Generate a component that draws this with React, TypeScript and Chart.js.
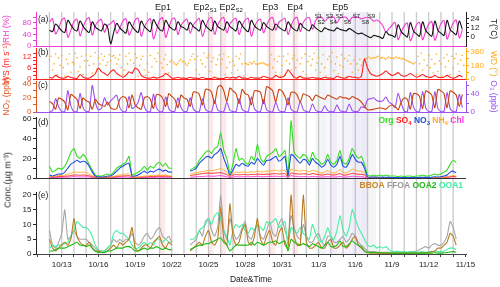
import React, { useEffect, useRef } from "react";
import { Chart, registerables } from "chart.js";
Chart.register(...registerables);

const FONT = "'Liberation Sans', Arial, Helvetica, sans-serif";
Chart.defaults.font.family = FONT;
Chart.defaults.color = "#222";

// ---------- time axis (day of October; November d = 31 + d) ----------
const T_START = 12; // 10/12 00:00
const T_STEP = 0.25; // 6-hourly values
const WD_STEP = 0.125; // 3-hourly wind direction
const X_MIN = 10.9;
const X_MAX = 46.05;
const X_TICK_DAYS = [13, 16, 19, 22, 25, 28, 31, 34, 37, 40, 43, 46];
const X_TICK_LABELS = ["10/13", "10/16", "10/19", "10/22", "10/25", "10/28", "10/31", "11/3", "11/6", "11/9", "11/12", "11/15"];
const DAY_LINES = [12, 13, 14, 15, 16, 17, 18, 19, 20, 21, 22, 23, 24, 25, 26, 27, 28, 29, 30, 31, 32, 33, 34, 35, 36, 37, 38, 39, 40, 41, 42, 43, 44, 45];
const X_TICK_MARKS = [11, ...DAY_LINES, 46];

// ---------- episodes ----------
const EP_NAMES = ["Ep1", "Ep2", "Ep2", "Ep3", "Ep4"];
const EP_SUBS = ["", "S1", "S2", "", ""];
const EP_FROM = [21.05, 24.98, 25.96, 29.8, 31.85];
const EP_TO = [21.46, 25.38, 26.45, 30.46, 32.34];
const EP_LABEL_AT = [21.29, 24.73, 26.86, 30.05, 32.1];
const EP5_LABEL_AT = 35.78;
const S_NAMES = ["S1", "S2", "S3", "S4", "S5", "S6", "S7", "S8", "S9"];
const S_FROM = [33.73, 34.23, 34.63, 35.04, 35.53, 36.02, 36.68, 37.41, 37.99];
const S_TO = [34.23, 34.63, 35.04, 35.53, 36.02, 36.68, 37.41, 37.99, 38.72];
const S_LABEL_AT = [33.98, 34.22, 34.88, 35.2, 35.7, 36.35, 37.09, 37.82, 38.31];

// ---------- (a) RH (%) and T (°C), 6-hourly ----------
const RH = [
  82, 95, 42, 62, 90, 96, 30, 55, 84, 93, 35, 66, 90, 98, 38, 70, 86, 92, 48, 72,
  78, 88, 44, 62, 86, 95, 38, 60, 90, 96, 34, 64, 85, 95, 25, 55, 90, 98, 30, 62,
  92, 96, 40, 70, 86, 93, 45, 72, 86, 96, 34, 62, 92, 99, 40, 72, 92, 99, 46, 76,
  90, 96, 40, 70, 90, 96, 34, 66, 86, 93, 46, 72, 93, 99, 55, 82, 90, 96, 40, 70,
  93, 99, 50, 82, 96, 99, 58, 88, 99, 100, 86, 96, 100, 100, 80, 98, 100, 100, 86, 100,
  100, 100, 94, 98, 100, 96, 86, 90, 84, 70, 48, 60, 72, 82, 22, 48, 70, 80, 18, 45,
  74, 82, 22, 50, 76, 85, 20, 48, 78, 88, 24, 52, 80, 90, 28, 55,
];
const TEMP = [
  9, 7, 17, 13, 8, 6, 22, 16, 10, 8, 21, 14, 9, 6, 20, 13, 10, 8, 17, 13,
  -9, 6, 18, 12, 8, 5, 20, 14, 9, 6, 21, 14, 10, 7, 23, 16, 10, 8, 22, 15,
  11, 9, 20, 14, 12, 9, 19, 14, 11, 8, 22, 15, 11, 8, 21, 14, 11, 9, 20, 14,
  11, 8, 21, 15, 10, 7, 22, 15, 11, 9, 19, 14, 11, 9, 17, 13, 10, 8, 20, 14,
  10, 8, 18, 13, 10, 8, 16, 12, 9, 7, 12, 10, 9, 8, 12, 10, 9, 8, 11, 9,
  6, 4, 5, 3, 1, -1, 2, 1, 0, -2, 7, 3, 2, 0, 16, 7, 3, 0, 19, 8,
  4, 1, 20, 9, 4, 1, 21, 9, 5, 2, 22, 10, 6, 3, 21, 10,
];

// ---------- (b) WS (m/s) 6-hourly, WD (deg) 3-hourly ----------
const WS = [
  1, 0.5, 2, 1, 0.5, 0.5, 1.5, 0.8, 0.5, 0.3, 2.5, 1, 0.5, 0.5, 1.5, 3, 6, 4, 3, 2,
  4, 5, 3, 2, 1, 2, 4, 3, 6, 5, 2, 1, 0.5, 0.5, 1, 0.5, 1, 1.5, 3, 2,
  0.5, 0.5, 1, 0.5, 0.5, 0.3, 1, 0.5, 0.5, 0.3, 1, 0.3, 0.3, 0.3, 0.8, 0.3, 0.3, 0.3, 1, 0.5,
  1, 0.5, 1.5, 0.5, 0.5, 0.3, 1, 0.5, 0.5, 0.5, 1.5, 1, 0.5, 0.5, 2, 1, 1, 2, 5, 3,
  1, 0.5, 1.5, 0.5, 0.5, 0.5, 1, 0.5, 0.5, 0.3, 1, 0.5, 0.5, 0.3, 1.5, 1, 0.5, 0.5, 1.5, 1,
  1, 0.5, 1.5, 11, 6, 3, 2, 1.5, 2, 3, 4.5, 3, 2, 2.5, 3.5, 2, 1.5, 2, 3, 2,
  1, 1.5, 2.5, 1.5, 1, 1, 2, 1, 0.8, 1, 2, 1, 0.5, 1, 2, 1,
];
const WD = [
  250, 300, 120, 200, 330, 60, 280, 180, 310, 150, 40, 260, 200, 330, 90, 220,
  200, 340, 280, 100, 160, 300, 60, 240, 320, 240, 180, 300, 80, 200, 350, 130,
  280, 200, 330, 250, 300, 180, 220, 320, 240, 300, 310, 280, 200, 260, 320, 150,
  60, 120, 300, 200, 340, 250, 90, 210, 330, 280, 40, 180, 260, 300, 120, 50,
  200, 90, 310, 160, 30, 270, 230, 340, 300, 210, 150, 260, 320, 190, 80, 230,
  250, 220, 200, 190, 210, 240, 260, 230, 230, 200, 180, 210, 250, 300, 330, 260,
  120, 300, 60, 250, 200, 340, 160, 280, 310, 100, 230, 280, 30, 190, 260, 320,
  200, 260, 330, 60, 150, 290, 220, 80, 240, 180, 300, 120, 270, 330, 200, 40,
  210, 200, 190, 220, 200, 210, 230, 200, 190, 200, 210, 205, 215, 200, 190, 180,
  200, 320, 150, 260, 90, 230, 300, 40, 180, 300, 60, 240, 330, 200, 120, 270,
  310, 150, 250, 30, 200, 280, 100, 330, 60, 230, 300, 180, 260, 340, 120, 210,
  280, 90, 200, 320, 150, 40, 260, 300, 230, 350, 110, 200, 290, 70, 180, 320,
  160, 270, 30, 240, 310, 200, 90, 250, 300, 200, 120, 260, 180, 220, 250, 270,
  280, 290, 270, 275, 285, 280, 290, 300, 270, 280, 285, 275, 260, 280, 290, 275,
  280, 270, 285, 290, 275, 280, 265, 270, 260, 250, 240, 230, 220, 210, 200, 215,
  60, 300, 200, 340, 120, 250, 30, 180, 310, 150, 260, 80, 200, 330, 100, 240,
  200, 40, 280, 160, 320, 240, 60, 300, 150, 270, 330, 200, 100, 250, 310, 180,
];

// ---------- (c) NO2 and O3 (ppb), 6-hourly ----------
const NO2 = [
  15, 12, 4, 20, 18, 14, 3, 25, 22, 18, 5, 20, 16, 14, 4, 18, 12, 10, 8, 14,
  6, 4, 5, 18, 22, 20, 6, 24, 10, 6, 4, 20, 22, 18, 5, 25, 24, 20, 8, 26,
  22, 18, 6, 24, 20, 18, 8, 28, 28, 25, 10, 32, 32, 28, 12, 35, 38, 30, 15, 34,
  30, 26, 12, 32, 26, 24, 10, 30, 30, 28, 12, 36, 34, 30, 14, 32, 30, 22, 10, 28,
  28, 24, 14, 26, 24, 22, 16, 24, 22, 20, 18, 24, 22, 20, 18, 22, 20, 20, 18, 22,
  20, 18, 14, 8, 3, 3, 4, 5, 6, 5, 4, 8, 10, 8, 3, 14, 20, 18, 4, 26,
  26, 22, 5, 30, 28, 24, 6, 32, 30, 26, 6, 30, 28, 24, 8, 25,
];
const O3 = [
  2, 2, 30, 12, 1, 1, 48, 14, 1, 1, 42, 10, 1, 2, 60, 22, 5, 8, 32, 16,
  25, 32, 38, 10, 1, 1, 35, 8, 12, 22, 44, 12, 1, 1, 40, 10, 1, 1, 34, 8,
  1, 2, 32, 10, 1, 2, 32, 8, 1, 1, 30, 6, 1, 1, 26, 5, 1, 1, 22, 4,
  1, 1, 30, 6, 1, 1, 34, 8, 1, 1, 28, 5, 1, 1, 22, 4, 1, 2, 32, 6,
  1, 1, 24, 5, 1, 1, 18, 4, 1, 1, 14, 3, 1, 1, 16, 3, 1, 1, 18, 3,
  1, 2, 12, 10, 28, 30, 32, 26, 24, 25, 34, 22, 18, 10, 42, 20, 2, 1, 44, 12,
  1, 1, 46, 10, 1, 1, 46, 8, 1, 1, 44, 8, 1, 1, 40, 10,
];

// ---------- (d) NR-PM1 species (µg/m3), 6-hourly ----------
const n = null;
const ORG = [
  12, 6, 8, 10, 9, 12, 18, 26, 30, 22, 20, 24, 20, 14, 8, 3, 2, 2, 3, 4,
  3, 6, 10, 12, 14, 16, 22, 3, 4, 6, 8, 12, 8, 12, 10, 14, 16, 12, 15, 10,
  10, n, n, n, n, n, 8, 10, 12, 18, 22, 26, 28, 25, 30, 32, 46, 28, 20, 5,
  14, 30, 18, 20, 16, 14, 22, 18, 34, 20, 16, 22, 24, 26, 30, 22, 24, 28, 3, 58,
  26, 22, 20, 24, 22, 16, 26, 20, 18, 14, 16, 24, 16, 14, 18, 28, 16, 14, 20, 30,
  24, 20, 22, 14, 3, 2, 3, 2, 3, 2, 3, 2, 2, 2, 1.5, 2, 1.5, 2, 2, 1.5,
  2, 2, 3, 2, 2, 3, 4, 3, 4, 6, 8, 14, 18, 16, n, n,
];
const SO4 = [
  1, 1, 1.2, 1.5, 1.5, 1.8, 2, 2.5, 3, 3, 2.8, 3, 2.8, 2.2, 1.5, 0.8, 0.6, 0.6, 0.8, 0.8,
  0.8, 1, 1.5, 1.8, 2, 2.2, 2.5, 0.8, 0.6, 0.8, 1, 1.2, 1.2, 1.5, 1.5, 1.8, 2, 1.8, 2, 1.6,
  1.5, n, n, n, n, n, 2.5, 3, 3.5, 4, 4.5, 4.8, 5, 4.8, 5, 5.2, 5.5, 4.5, 3.5, 1.5,
  3, 3.5, 3.2, 3.5, 3.5, 3.2, 3.8, 3.5, 4, 3.8, 3.5, 4, 4, 4.2, 4.5, 4, 4.2, 4.5, 1, 5,
  4.5, 4.2, 4, 4.2, 4.2, 3.5, 4.5, 4, 3.5, 3, 3.4, 4, 3.2, 3, 3.6, 4.5, 3, 3, 3.8, 4.8,
  4.2, 3.8, 3.8, 3, 0.6, 0.5, 0.5, 0.5, 0.5, 0.5, 0.5, 0.4, 0.4, 0.4, 0.4, 0.4, 0.4, 0.4, 0.4, 0.4,
  0.4, 0.5, 0.5, 0.5, 0.5, 0.5, 0.6, 0.6, 0.6, 0.8, 1, 1.4, 1.6, 1.4, n, n,
];
const NO3 = [
  3, 2, 3, 4, 4, 6, 10, 14, 16, 18, 16, 17, 16, 12, 6, 2, 1, 1, 1, 2,
  2, 4, 7, 10, 12, 14, 15, 2, 2, 3, 5, 7, 5, 7, 6, 8, 9, 7, 8, 6,
  6, n, n, n, n, n, 7, 8, 10, 15, 18, 21, 22, 20, 24, 26, 30, 20, 12, 3,
  8, 14, 12, 15, 13, 12, 16, 14, 20, 16, 13, 18, 18, 20, 22, 17, 19, 22, 2, 24,
  22, 18, 15, 19, 18, 13, 20, 16, 14, 11, 13, 19, 13, 11, 14, 22, 12, 11, 16, 24,
  19, 16, 16, 10, 1, 0.8, 1, 0.8, 0.8, 0.6, 0.8, 0.6, 0.5, 0.5, 0.4, 0.5, 0.4, 0.5, 0.5, 0.4,
  0.5, 0.5, 0.8, 0.6, 0.6, 0.8, 1.2, 1, 1.2, 2, 3, 6, 7, 5, n, n,
];
const NH4 = [
  2, 1.5, 2, 2.5, 2.5, 3, 4, 5, 6, 6, 5.5, 6, 5.5, 4, 2.5, 1, 0.8, 0.8, 1, 1.2,
  1, 1.5, 2.5, 3, 3.5, 4, 4.5, 1, 0.8, 1, 1.5, 2, 2, 2.5, 2.2, 2.8, 3, 2.5, 3, 2.2,
  2.2, n, n, n, n, n, 4, 5, 5.5, 6, 6.5, 7, 7.5, 7.5, 8, 8.5, 10, 8, 6, 2,
  5, 6, 5.5, 6, 6, 5.5, 6.5, 6, 7, 6.5, 6, 7, 7, 7.5, 8, 7, 7.5, 8, 1.5, 9,
  8, 7.5, 7, 7.5, 7.5, 6, 8, 7, 6, 5, 6, 7.5, 5.5, 5, 6, 8.5, 5.5, 5, 6.5, 9,
  8, 7, 7, 5, 0.6, 0.5, 0.6, 0.5, 0.5, 0.4, 0.5, 0.4, 0.4, 0.4, 0.3, 0.4, 0.3, 0.4, 0.4, 0.3,
  0.4, 0.4, 0.5, 0.4, 0.4, 0.5, 0.6, 0.5, 0.6, 0.8, 1.2, 2, 2.5, 2, n, n,
];
const CHL = [
  0.8, 0.5, 0.4, 0.8, 0.8, 1, 0.8, 1.2, 1.5, 1.2, 1, 1.2, 1.2, 1, 0.6, 0.3, 0.2, 0.2, 0.2, 0.3,
  0.3, 0.5, 0.6, 0.8, 0.9, 1, 1, 0.3, 0.2, 0.3, 0.4, 0.6, 0.6, 0.8, 0.6, 0.9, 1, 0.8, 0.8, 0.7,
  0.6, n, n, n, n, n, 0.8, 1, 1.2, 1.5, 1.5, 1.8, 2, 1.8, 1.8, 2.2, 2.5, 1.8, 1.2, 0.4,
  1, 1.4, 1.2, 1.4, 1.3, 1.2, 1.4, 1.4, 1.8, 1.4, 1.2, 1.6, 1.6, 1.6, 1.8, 1.5, 1.6, 1.8, 0.3, 2.4,
  1.8, 1.5, 1.3, 1.5, 1.4, 1.1, 1.5, 1.3, 1.2, 1, 1.2, 1.4, 1.1, 1, 1.2, 1.6, 1, 1, 1.3, 1.7,
  1.5, 1.3, 1.3, 0.9, 0.2, 0.1, 0.2, 0.1, 0.1, 0.1, 0.2, 0.1, 0.1, 0.1, 0.1, 0.1, 0.1, 0.1, 0.1, 0.1,
  0.1, 0.1, 0.2, 0.1, 0.1, 0.2, 0.2, 0.2, 0.2, 0.4, 0.6, 1, 1.2, 1, n, n,
];

// ---------- (e) OA factors (µg/m3), 6-hourly ----------
const BBOA = [
  5, 2, 1, 2, 3, 4, 3, 5, 12, 6, 4, 3, 3, 4, 2, 1, 1, 0.5, 0.5, 1,
  2, 3, 2, 4, 3, 4, 5, 9, 2, 1, 2, 3, 3, 2, 4, 5, 6, 3, 2, 4,
  3, n, n, n, n, n, 1, 2, 3, 4, 3, 6, 8, 4, 3, 5, 16, 5, 3, 17,
  6, 3, 4, 8, 10, 4, 3, 6, 12, 5, 3, 6, 8, 4, 3, 7, 9, 3, 2, 20,
  6, 3, 3, 20, 4, 2, 2, 3, 4, 2, 2, 4, 5, 2, 2, 3, 4, 2, 3, 5,
  6, 3, 2, 1, 0.5, 0.3, 0.3, 0.3, 0.2, 0.2, 0.2, 0.2, 0.2, 0.2, 0.2, 0.2, 0.2, 0.2, 0.2, 0.2,
  0.2, 0.3, 0.3, 0.4, 0.5, 0.8, 1, 2, 2, 3, 4, 7, 6, 3, n, n,
];
const FFOA = [
  8, 3, 2, 4, 7, 15, 5, 6, 8, 6, 5, 5, 5, 4, 3, 2, 1, 1, 1, 2,
  3, 5, 4, 5, 4, 5, 5, 7, 4, 3, 4, 6, 7, 5, 6, 8, 9, 6, 5, 6,
  4, n, n, n, n, n, 3, 4, 5, 8, 6, 11, 12, 8, 6, 9, 20, 8, 5, 12,
  8, 5, 6, 9, 11, 6, 5, 8, 10, 6, 5, 8, 11, 7, 6, 10, 12, 8, 5, 13,
  9, 6, 5, 10, 6, 4, 4, 6, 7, 4, 3, 6, 6, 4, 4, 5, 6, 4, 5, 7,
  6, 4, 3, 2, 1, 0.8, 0.8, 0.7, 0.6, 0.6, 0.6, 0.6, 0.6, 0.6, 0.6, 0.6, 0.6, 0.6, 0.7, 0.8,
  1, 1.5, 2, 2.5, 2, 3, 3.5, 3, 3, 4, 6, 11, 9, 5, n, n,
];
const OOA2 = [
  1, 1, 1.5, 2, 2, 2, 2.5, 3, 3.5, 4, 3, 3, 2.5, 3, 2, 1, 0.5, 0.5, 0.5, 1,
  1, 1.5, 2, 2, 2, 2.5, 2.5, 2, 1, 1, 1.5, 2, 1.5, 2, 2, 2.5, 2, 1.5, 2, 1.5,
  1.5, n, n, n, n, n, 1.5, 2, 2.5, 3, 3, 3.5, 3.5, 4, 4.5, 5, 5.5, 4, 3, 1,
  2, 3, 3, 3, 3, 3, 4, 3, 4, 3.5, 3, 3.5, 4, 4, 4.5, 3.5, 4, 4.5, 1, 5,
  4, 3.5, 3, 3.5, 3, 2.5, 3.5, 3, 2.5, 2, 3, 4, 2.5, 2.5, 3, 4.5, 2.5, 2.5, 3.5, 4.5,
  3.5, 3, 2.5, 1, 0.5, 0.5, 0.6, 0.5, 0.4, 0.4, 0.4, 0.3, 0.3, 0.3, 0.3, 0.3, 0.3, 0.3, 0.3, 0.3,
  0.3, 0.3, 0.3, 0.3, 0.3, 0.3, 0.4, 0.3, 0.3, 0.4, 0.5, 0.7, 0.8, 0.6, n, n,
];
const OOA1 = [
  2, 3, 2.5, 3, 3, 3.5, 4, 6, 8, 11, 10, 9, 9, 8, 6, 3, 1.5, 1, 1, 2,
  3, 7, 8, 7, 7, 6, 5, 3, 2, 2, 3, 4, 3, 4, 3, 5, 5, 4, 5, 4,
  4, n, n, n, n, n, 5, 5, 6, 8, 9, 10, 12, 10, 13, 14, 12, 8, 6, 3,
  8, 10, 9, 10, 8, 7, 9, 8, 10, 9, 8, 11, 10, 11, 12, 9, 10, 11, 3, 9,
  8, 7, 9, 7, 6, 5, 10, 7, 5, 4, 6, 9, 6, 5, 8, 13, 8, 6, 9, 15,
  12, 9, 7, 5, 3, 2.5, 3, 2, 2.5, 2, 2.5, 1.5, 1, 0.8, 1, 0.7, 0.8, 0.6, 0.8, 0.6,
  0.6, 0.7, 0.8, 0.6, 0.7, 0.8, 1, 0.8, 0.8, 1, 1.5, 2, 2, 1.5, n, n,
];

// ---------- colours ----------
const PINK = "#f03cd2";
const RED = "#ff1f1f";
const ORANGE = "#ffaa1c";
const BROWN = "#c9400e";
const NO2_AXIS = "#e0581e";
const PURPLE = "#9b50f0";
const C_ORG = "#33dd22";
const C_SO4 = "#ff2020";
const C_NO3 = "#1f4fe0";
const C_NH4 = "#ffaa22";
const C_CHL = "#ff33dd";
const C_BBOA = "#b97a1f";
const C_FFOA = "#a6a6a6";
const C_OOA2 = "#1fba12";
const C_OOA1 = "#45eea0";
const EP_COLOR = "rgba(250,212,212,0.5)";
const S_COLORS = ["#f0f8f1", "#f3f1fa", "#f8f8fc", "#f1eefa", "#f8f8fb", "#f4f2fa", "#f0edf9", "#eeebf8", "#f5f5f5"];
const DAY_LINE = "rgba(150,150,150,0.5)";

const pts = (vals: (number | null)[], step = T_STEP) => vals.map((v, i) => ({ x: T_START + i * step, y: v }));

type Item = { t: string; s?: string; c?: string };
function drawRich(ctx: CanvasRenderingContext2D, items: Item[], x: number, y: number, align: "left" | "center" | "right", size: number, bold = false, color = "#222") {
  const fMain = `${bold ? "bold " : ""}${size}px ${FONT}`;
  const fSub = `${bold ? "bold " : ""}${Math.round(size * 0.72)}px ${FONT}`;
  ctx.font = fMain;
  const space = ctx.measureText(" ").width;
  const widths = items.map((it) => {
    ctx.font = fMain;
    let w = ctx.measureText(it.t).width;
    if (it.s) {
      ctx.font = fSub;
      w += ctx.measureText(it.s).width;
    }
    return w;
  });
  const total = widths.reduce((a, b) => a + b, 0) + space * (items.length - 1);
  let cx = align === "left" ? x : align === "center" ? x - total / 2 : x - total;
  ctx.textBaseline = "middle";
  ctx.textAlign = "left";
  items.forEach((it) => {
    ctx.fillStyle = it.c || color;
    ctx.font = fMain;
    ctx.fillText(it.t, cx, y);
    let w = ctx.measureText(it.t).width;
    if (it.s) {
      ctx.font = fSub;
      ctx.fillText(it.s, cx + w, y + size * 0.3);
      w += ctx.measureText(it.s).width;
    }
    cx += w + space;
  });
}

type Layout = { tileTop: number; tileBottom: number; areaTop: number; areaBottom: number; canvasTop: number; canvasBottom: number };
const LAYOUT: Record<string, Layout> = {
  a: { tileTop: 12, tileBottom: 47, areaTop: 12, areaBottom: 46, canvasTop: 0, canvasBottom: 59 },
  b: { tileTop: 47, tileBottom: 80, areaTop: 48, areaBottom: 79, canvasTop: 35, canvasBottom: 92 },
  c: { tileTop: 80, tileBottom: 113, areaTop: 81, areaBottom: 112, canvasTop: 68, canvasBottom: 125 },
  d: { tileTop: 113, tileBottom: 179, areaTop: 117, areaBottom: 178, canvasTop: 101, canvasBottom: 191 },
  e: { tileTop: 179, tileBottom: 254, areaTop: 192, areaBottom: 254, canvasTop: 167, canvasBottom: 287 },
};

function decor(panel: string, baseline: string | null, labelDy: number) {
  const L = LAYOUT[panel];
  return {
    id: "decor_" + panel,
    beforeDraw(chart: any) {
      const { ctx } = chart;
      const xs = chart.scales.x;
      const y0 = L.tileTop - L.canvasTop;
      const y1 = L.tileBottom - L.canvasTop;
      ctx.save();
      ctx.fillStyle = EP_COLOR;
      EP_FROM.forEach((f, i) => {
        const xa = xs.getPixelForValue(f);
        const xb = xs.getPixelForValue(EP_TO[i]);
        ctx.fillRect(xa, y0, xb - xa, y1 - y0);
      });
      S_FROM.forEach((f, i) => {
        const xa = xs.getPixelForValue(f);
        const xb = xs.getPixelForValue(S_TO[i]);
        ctx.fillStyle = S_COLORS[i];
        ctx.fillRect(xa, y0, xb - xa, y1 - y0);
      });
      ctx.strokeStyle = DAY_LINE;
      ctx.lineWidth = 1.3;
      DAY_LINES.forEach((d) => {
        const x = xs.getPixelForValue(d);
        ctx.beginPath();
        ctx.moveTo(x, y0);
        ctx.lineTo(x, y1);
        ctx.stroke();
      });
      ctx.restore();
    },
    afterDraw(chart: any) {
      const { ctx, chartArea: ca } = chart;
      const xs = chart.scales.x;
      ctx.save();
      if (baseline) {
        ctx.strokeStyle = baseline;
        ctx.lineWidth = 1;
        ctx.beginPath();
        ctx.moveTo(ca.left, ca.bottom + 0.5);
        ctx.lineTo(ca.right, ca.bottom + 0.5);
        ctx.stroke();
      }
      drawRich(ctx, [{ t: `(${panel})` }], ca.left + 2, ca.top + labelDy, "left", 8.5);
      if (panel === "a") {
        EP_NAMES.forEach((nm, i) => {
          drawRich(ctx, [{ t: nm, s: EP_SUBS[i] || undefined }], xs.getPixelForValue(EP_LABEL_AT[i]), 8, "center", 9);
        });
        drawRich(ctx, [{ t: "Ep5" }], xs.getPixelForValue(EP5_LABEL_AT), 8, "center", 9);
        S_NAMES.forEach((nm, i) => {
          drawRich(ctx, [{ t: nm }], xs.getPixelForValue(S_LABEL_AT[i]), i % 2 === 0 ? 16 : 22.5, "center", 6);
        });
      }
      if (panel === "d") {
        drawRich(
          ctx,
          [
            { t: "Org", c: C_ORG },
            { t: "SO", s: "4", c: C_SO4 },
            { t: "NO", s: "3", c: C_NO3 },
            { t: "NH", s: "4", c: C_NH4 },
            { t: "Chl", c: C_CHL },
          ],
          ca.right - 2,
          ca.top + 4,
          "right",
          8.5,
          true
        );
      }
      if (panel === "e") {
        drawRich(
          ctx,
          [
            { t: "BBOA", c: "#c8862a" },
            { t: "FFOA", c: "#999999" },
            { t: "OOA2", c: C_OOA2 },
            { t: "OOA1", c: C_OOA1 },
          ],
          ca.right - 3,
          ca.top - 6,
          "right",
          8.5,
          true
        );
      }
      ctx.restore();
    },
  };
}

function yAxis(position: "left" | "right", min: number, max: number, ticks: number[], labels: number[], color: string, title: string, titleColor?: string) {
  return {
    type: "linear",
    position,
    min,
    max,
    afterBuildTicks: (s: any) => {
      s.ticks = ticks.map((v) => ({ value: v }));
    },
    afterFit: (s: any) => {
      s.width = position === "left" ? 36 : 34;
    },
    ticks: {
      autoSkip: false,
      padding: 1.5,
      color,
      font: { size: 8 },
      callback: (v: any) => (labels.includes(Number(v)) ? String(v) : ""),
    },
    grid: { display: true, drawOnChartArea: false, drawTicks: true, tickLength: 3, color, lineWidth: 1 },
    border: { display: true, color, width: 1 },
    title: { display: !!title, text: title, color: titleColor || color, font: { size: 8.5 }, padding: { top: 1.5, bottom: 0 } },
  };
}

function xHidden() {
  return { type: "linear", min: X_MIN, max: X_MAX, display: false };
}

function xShown() {
  return {
    type: "linear",
    min: X_MIN,
    max: X_MAX,
    position: "bottom",
    afterBuildTicks: (s: any) => {
      s.ticks = X_TICK_MARKS.map((v) => ({ value: v }));
    },
    afterFit: (s: any) => {
      s.height = 33;
    },
    ticks: {
      autoSkip: false,
      maxRotation: 0,
      minRotation: 0,
      padding: 3,
      color: "#222",
      font: { size: 8 },
      callback: (v: any) => {
        const i = X_TICK_DAYS.indexOf(Number(v));
        return i >= 0 ? X_TICK_LABELS[i] : "";
      },
    },
    grid: { display: true, drawOnChartArea: false, drawTicks: true, tickLength: 3, color: "#444" },
    border: { display: true, color: "#444" },
    title: { display: true, text: "Date&Time", color: "#222", font: { size: 8.5 }, padding: { top: 0, bottom: 2 } },
  };
}

function line(data: any[], color: string, yAxisID: string, width = 1, tension = 0.3) {
  return { data, borderColor: color, backgroundColor: color, borderWidth: width, pointRadius: 0, tension, yAxisID, spanGaps: false, fill: false };
}

function baseOptions(panel: string, rightAxis: boolean, scales: any) {
  const L = LAYOUT[panel];
  return {
    responsive: false,
    animation: false,
    events: [],
    layout: {
      padding: {
        top: L.areaTop - L.canvasTop,
        bottom: panel === "e" ? 0 : L.canvasBottom - L.areaBottom,
        left: 0,
        right: rightAxis ? 0 : 34,
      },
    },
    plugins: { legend: { display: false }, tooltip: { enabled: false }, title: { display: false } },
    scales,
  };
}

function configA() {
  return {
    type: "line",
    data: { datasets: [line(pts(TEMP), "#111", "yR", 1.1), line(pts(RH), PINK, "yL", 1.1)] },
    options: baseOptions("a", true, {
      x: xHidden(),
      yL: yAxis("left", 0, 118, [0, 20, 40, 60, 80, 100], [0, 40, 80], PINK, "RH (%)"),
      yR: yAxis("right", -12, 33, [0, 6, 12, 18, 24], [0, 12, 24], "#222", "T(°C)"),
    }),
    plugins: [decor("a", PINK, 8)],
  };
}

function configB() {
  return {
    type: "line",
    data: {
      datasets: [
        line(pts(WS), RED, "yL", 1.1, 0.2),
        { data: pts(WD, WD_STEP), showLine: false, pointRadius: 0.8, pointBorderWidth: 0, pointBackgroundColor: ORANGE, borderColor: ORANGE, yAxisID: "yR" },
      ],
    },
    options: baseOptions("b", true, {
      x: xHidden(),
      yL: yAxis("left", 0, 17, [0, 2, 4, 6, 8, 10, 12, 14], [0, 6, 12], RED, "WS (m s⁻¹)"),
      yR: yAxis("right", 0, 410, [0, 90, 180, 270, 360], [0, 180, 360], ORANGE, "WD (°)"),
    }),
    plugins: [decor("b", RED, 5)],
  };
}

function configC() {
  return {
    type: "line",
    data: { datasets: [line(pts(NO2), BROWN, "yL", 1.1, 0.2), line(pts(O3), PURPLE, "yR", 1.1, 0.2)] },
    options: baseOptions("c", true, {
      x: xHidden(),
      yL: yAxis("left", 0, 44, [0, 10, 20, 30, 40], [0, 20, 40], NO2_AXIS, "NO₂ (ppb)"),
      yR: yAxis("right", 0, 70, [0, 20, 40, 60], [0, 40], PURPLE, "O₃ (ppb)"),
    }),
    plugins: [decor("c", PURPLE, 5)],
  };
}

function configD() {
  return {
    type: "line",
    data: {
      datasets: [
        line(pts(NO3), C_NO3, "yL", 1.1, 0.15),
        line(pts(ORG), C_ORG, "yL", 1.1, 0.15),
        line(pts(NH4), C_NH4, "yL", 1, 0.15),
        line(pts(SO4), C_SO4, "yL", 1, 0.15),
        line(pts(CHL), C_CHL, "yL", 1, 0.15),
      ],
    },
    options: baseOptions("d", false, {
      x: xHidden(),
      yL: yAxis("left", 0, 62, [0, 10, 20, 30, 40, 50, 60], [0, 20, 40, 60], "#222", ""),
    }),
    plugins: [decor("d", "#333", 6)],
  };
}

function configE() {
  return {
    type: "line",
    data: {
      datasets: [
        line(pts(OOA2), C_OOA2, "yL", 1.1, 0.15),
        line(pts(BBOA), C_BBOA, "yL", 1.1, 0.15),
        line(pts(OOA1), C_OOA1, "yL", 1.1, 0.15),
        line(pts(FFOA), C_FFOA, "yL", 1.1, 0.15),
      ],
    },
    options: baseOptions("e", false, {
      x: xShown(),
      yL: yAxis("left", 0, 21, [0, 5, 10, 15, 20], [0, 5, 10, 15, 20], "#222", ""),
    }),
    plugins: [decor("e", null, 4)],
  };
}

function Panel({ panel, make }: { panel: string; make: () => any }) {
  const ref = useRef<HTMLCanvasElement>(null);
  const L = LAYOUT[panel];
  const h = L.canvasBottom - L.canvasTop;
  useEffect(() => {
    const chart = new Chart(ref.current as HTMLCanvasElement, make());
    return () => chart.destroy();
  }, []);
  return <canvas ref={ref} width={500} height={h} style={{ position: "absolute", left: 0, top: L.canvasTop, width: 500, height: h }} />;
}

export default function App() {
  return (
    <div style={{ position: "absolute", left: 0, top: 0, width: 500, height: 287, background: "#fff", overflow: "hidden" }}>
      <Panel panel="a" make={configA} />
      <Panel panel="b" make={configB} />
      <Panel panel="c" make={configC} />
      <Panel panel="d" make={configD} />
      <Panel panel="e" make={configE} />
      <div
        style={{
          position: "absolute",
          left: 7,
          top: 180,
          transform: "translate(-50%, -50%) rotate(-90deg)",
          whiteSpace: "nowrap",
          font: `9px ${FONT}`,
          color: "#222",
        }}
      >
        Conc.(µg m⁻³)
      </div>
    </div>
  );
}
